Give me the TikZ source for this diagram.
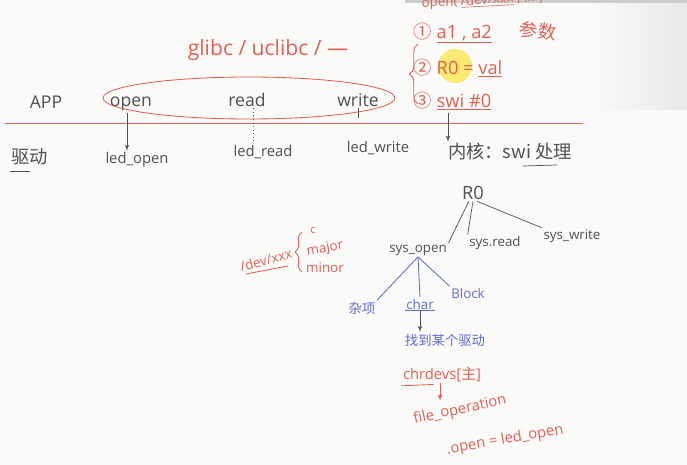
\documentclass[tikz,border=0pt]{standalone}
\usepackage{fontspec}
\setmainfont{Open Sans}
\newfontfamily\cjk{Noto Sans CJK SC}
\usepackage{xcolor}
\usetikzlibrary{
  positioning,
  decorations.pathreplacing,
  arrows
}
\definecolor{board}{RGB}{250,250,249}
\definecolor{penred}{RGB}{224,96,84}
\definecolor{penblue}{RGB}{98,108,206}
\definecolor{pengray}{RGB}{80,80,80}
\definecolor{marker}{RGB}{250,232,90}

\begin{document}
\begin{tikzpicture}[x=0.025cm,y=-0.025cm,>=latex',
  every node/.style={inner sep=1pt},
  ink/.style={text=pengray},
  redink/.style={text=penred},
  blueink/.style={text=penblue},
  big/.style={font=\fontsize{12.5}{14}\selectfont},
  mid/.style={font=\fontsize{13}{15}\selectfont},
  med/.style={font=\fontsize{10.5}{12}\selectfont},
  small/.style={font=\fontsize{9.5}{11}\selectfont},
  pen/.style={draw=pengray,line width=0.5pt},
  redpen/.style={draw=penred,line width=0.6pt},
  bluepen/.style={draw=penblue,line width=0.6pt}]
  \useasboundingbox (0,0) rectangle (687,465);
  \fill[board] (0,0) rectangle (687,465);
  \shade[left color=board,right color=gray!18] (590,0) rectangle (687,110);
  \fill[gray!40] (405,0) rectangle (687,3);

  % user space
  \begin{scope}
    \clip (380,0) rectangle (687,30);
    \node[redink,small,anchor=west,rotate=3] (call) at (420,4) {open( \underline{/dev/xxx} , ... )};
  \end{scope}
  \node[redink,font=\fontsize{15}{17}\selectfont] (libc) at (268,50) {glibc / uclibc / ---};
  \node[ink,big] (app) at (46,102) {APP};
  \node[ink,big] (open) at (131,104) {open};
  \node[ink,big] (read) at (247,100) {read};
  \node[ink,big] (write) at (358,100) {write};
  \draw[redpen] (249,98) ellipse (146 and 21);
  \draw[redpen] (5,123) -- (583,123);

  % driver layer
  \node[ink,mid] (drv) at (30,157) {\cjk 驱动};
  \draw[pen] ([yshift=-3pt]drv.south west) -- ([yshift=-3pt]drv.south);
  \node[ink,med] (ledopen) at (137,160) {led\_open};
  \node[ink,med] (ledread) at (263,152) {led\_read};
  \node[ink,med] (ledwrite) at (378,148) {led\_write};
  \draw[pen,->] (open.south -| 127,0) -- (ledopen.north -| 127,0);
  \draw[pen,dotted] (read.south -| 253,0) -- (ledread.north -| 253,0);
  \draw[pen] (write.south) -- ++(0,10);

  % swi steps
  \node[redink,mid,anchor=west] (args) at (412,33) {{\cjk ①} \underline{a1 , a2}};
  \node[redink,mid,rotate=-8] (argnote) at (538,31) {\cjk 参数};
  \fill[marker,opacity=0.85] (455,66) circle (17);
  \node[redink,mid,anchor=west] (ret) at (412,68) {{\cjk ②} R0 = \underline{val}};
  \node[redink,mid,anchor=west] (trap) at (412,101) {{\cjk ③} \underline{swi \#0}};
  \draw[redpen,decorate,decoration={brace,amplitude=6pt}] (418,104) -- (418,44);

  % kernel
  \node[ink,mid] (kernel) at (510,152) {\cjk 内核：swi 处理};
  \draw[pen] (523,166) -- (557,165);
  \coordinate (trapfoot) at (448,113);
  \draw[pen,->] (trapfoot) -- (kernel.north -| trapfoot);

  \node[ink,mid] (rzero) at (473,193) {R0};
  \node[ink,small] (sysopen) at (418,250) {sys\_open};
  \node[ink,small] (sysread) at (495,243) {sys.read};
  \node[ink,small] (syswrite) at (572,236) {sys\_write};
  \draw[pen] ([xshift=-3pt]rzero.south) -- (sysopen.north east);
  \draw[pen] (rzero.south) -- (sysread.north west);
  \draw[pen] ([xshift=3pt]rzero.south) -- (syswrite.north west);

  % sys_open branches
  \node[blueink,small] (misc) at (362,308) {\cjk 杂项};
  \node[blueink,small] (chr) at (420,304) {char};
  \node[blueink,small] (blk) at (468,293) {Block};
  \draw[bluepen] (sysopen.south) -- (misc.north east);
  \draw[bluepen] (sysopen.south) -- (chr.north);
  \draw[bluepen] (sysopen.south) -- (blk.north west);
  \draw[bluepen] (chr.south west) -- (chr.south east);

  \node[blueink,small] (findrv) at (445,340) {\cjk 找到某个驱动};
  \draw[pen,->] (chr.south) -- (findrv.north -| chr.south);
  \node[redink,med] (chrdevs) at (442,374) {chrdevs[{\cjk 主}]};
  \draw[redpen] ([yshift=-2pt]chrdevs.south west) -- ([yshift=-1pt,xshift=-6pt]chrdevs.south);
  \node[redink,med,rotate=12] (fops) at (460,410) {file\_operation};
  \draw[redpen,->] (chrdevs.south -| 440,0) -- (fops.north -| 440,0);
  \node[redink,med,rotate=10] (fopen) at (505,440) {.open = led\_open};

  % device file
  \node[redink,small,rotate=15] (devfile) at (266,260) {/dev/xxx};
  \draw[redpen] (246,274) -- (288,266);
  \draw[redpen,decorate,decoration={brace,amplitude=5pt}] (302,272) -- (302,232);
  \node[redink,font=\fontsize{8}{9}\selectfont] (devtype) at (313,230) {c};
  \node[redink,small,rotate=10] (major) at (325,249) {major};
  \node[redink,small] (minor) at (325,268) {minor};
\end{tikzpicture}
\end{document}
